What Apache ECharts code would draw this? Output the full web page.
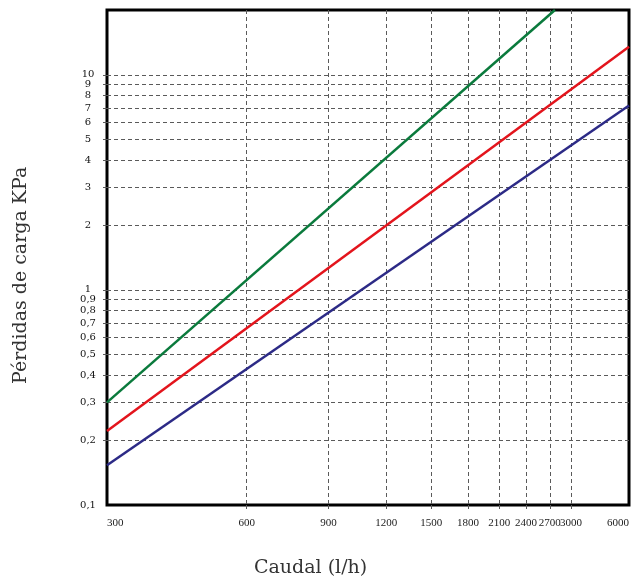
<!DOCTYPE html>
<html>
<head>
<meta charset="utf-8">
<script src="https://cdn.jsdelivr.net/npm/echarts@6/dist/echarts.min.js"></script>
<style>
html,body{margin:0;padding:0;background:#fff;}
#chart{width:632px;height:583px;}
</style>
</head>
<body>
<div id="chart"></div>
<script>
// Tick values and labels
var xTickValues = [300, 600, 900, 1200, 1500, 1800, 2100, 2400, 2700, 3000, 4000];
var xTickLabels = ['300', '600', '900', '1200', '1500', '1800', '2100', '2400', '2700', '3000', '6000'];
var xGridValues = [600, 900, 1200, 1500, 1800, 2100, 2400, 2700, 3000];
var yTickValues = [0.1, 0.2, 0.3, 0.4, 0.5, 0.6, 0.7, 0.8, 0.9, 1, 2, 3, 4, 5, 6, 7, 8, 9, 10];
var yTickLabels = ['0,1', '0,2', '0,3', '0,4', '0,5', '0,6', '0,7', '0,8', '0,9', '1', '2', '3', '4', '5', '6', '7', '8', '9', '10'];
var yGridValues = [0.2, 0.3, 0.4, 0.5, 0.6, 0.7, 0.8, 0.9, 1, 2, 3, 4, 5, 6, 7, 8, 9, 10];

// Series (caudal l/h, pérdida kPa)
var greenLine = [[300, 0.30], [2770, 20]];
var redLine = [[300, 0.221], [4000, 13.5]];
var blueLine = [[300, 0.153], [4000, 7.2]];

var chart = echarts.init(document.getElementById('chart'), null, {renderer: 'canvas'});

function labelFor(values, labels) {
  return function (v) {
    for (var i = 0; i < values.length; i++) {
      if (Math.abs(values[i] - v) / values[i] < 1e-6) return labels[i];
    }
    return '';
  };
}

var gridLineStyle = {color: '#5a5a5a', width: 1, type: [4, 3]};

chart.setOption({
  animation: false,
  backgroundColor: '#fff',
  grid: {left: 107, right: 2, top: 10, bottom: 78, show: true, borderColor: '#000', borderWidth: 3, containLabel: false},
  xAxis: {
    type: 'log', logBase: 10, min: 300, max: 4000,
    axisLine: {show: false},
    axisTick: {show: true, length: 7, inside: false, customValues: xGridValues, lineStyle: gridLineStyle},
    splitLine: {show: true, lineStyle: gridLineStyle},
    minorTick: {show: false}, minorSplitLine: {show: false},
    axisLabel: {
      customValues: xTickValues, hideOverlap: false, showMinLabel: true, showMaxLabel: true,
      alignMinLabel: 'left', alignMaxLabel: 'right',
      formatter: labelFor(xTickValues, xTickLabels),
      fontFamily: 'Liberation Serif', fontSize: 11, color: '#222', margin: 13
    }
  },
  yAxis: {
    type: 'log', logBase: 10, min: 0.1, max: 20,
    axisLine: {show: false},
    axisTick: {show: true, length: 7, inside: false, customValues: yGridValues, lineStyle: gridLineStyle},
    splitLine: {show: true, lineStyle: gridLineStyle},
    minorTick: {show: false}, minorSplitLine: {show: false},
    axisLabel: {
      customValues: yTickValues, hideOverlap: false, showMinLabel: true, showMaxLabel: true,
      formatter: labelFor(yTickValues, yTickLabels),
      align: 'center', margin: 19,
      fontFamily: 'DejaVu Serif', fontSize: 10, color: '#111'
    }
  },
  graphic: [
    {type: 'text', left: 254, top: 559, style: {text: 'Caudal (l/h)', font: '19px "DejaVu Serif"', fill: '#333'}},
    {type: 'text', x: 12, y: 384, rotation: Math.PI / 2, style: {text: 'Pérdidas de carga KPa', font: '19px "DejaVu Serif"', fill: '#333'}}
  ],
  series: [
    {type: 'line', data: greenLine, symbol: 'none', lineStyle: {color: '#0a7a3c', width: 2.5}, z: 5},
    {type: 'line', data: redLine, symbol: 'none', lineStyle: {color: '#e3141c', width: 2.5}, z: 5},
    {type: 'line', data: blueLine, symbol: 'none', lineStyle: {color: '#2c2a86', width: 2.5}, z: 5}
  ]
});
</script>
</body>
</html>
